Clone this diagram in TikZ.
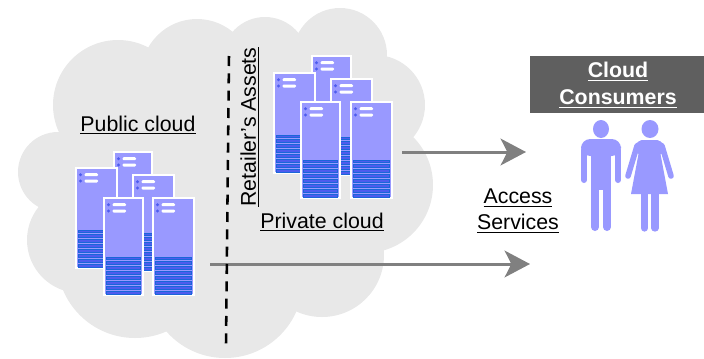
\documentclass[tikz,border=0pt]{standalone}
\usepackage{fontspec}
\setmainfont{Liberation Sans}
\usetikzlibrary{arrows.meta}
\definecolor{cloudgrey}{HTML}{E8E8E8}
\definecolor{headgrey}{HTML}{5F5F5F}
\definecolor{linkgrey}{HTML}{808080}
\definecolor{unitblue}{HTML}{9999FF}
\definecolor{rowblue}{HTML}{1A66D9}
\definecolor{rowfill}{HTML}{4D5CEE}
\newcommand{\lblline}[1]{\sbox0{#1}\rlap{\usebox0}\rule[-2.6pt]{\wd0}{.9pt}}
\tikzset{
  label/.style = {font=\fontsize{16}{19.5}\selectfont, align=center, inner sep=0pt},
  headlabel/.style = {label, font=\fontsize{16}{20}\selectfont\bfseries, text=white},
  link/.style = {draw=linkgrey, line width=2.25pt, -{Stealth[length=19pt,width=20pt,inset=5pt]}},
  unitbox/.style = {fill=unitblue, draw=white, line width=1.5pt},
  unitrow/.style = {fill=rowfill, draw=rowblue, line width=.7pt},
  limb/.style = {draw=unitblue, line cap=round, line join=round},
}
% one server, x y w h of the top left corner
\newcommand{\serverunit}[4]{
  \begin{scope}[shift={(#1,#2)}]
    \draw[unitbox] (0,0) rectangle (#3,#4);
    \foreach \dy in {6.7,13}{
      \fill[rowfill] (4.5,\dy) circle (1.6);
      \fill[white,rounded corners=.8pt] (8.5,\dy-1.5) rectangle (22,\dy+1.5);
    }
    \foreach \r in {0,...,7}{
      \draw[unitrow] (2.5,#4-38+\r*4.9) rectangle (#3-2.5,#4-38+\r*4.9+2.8);
    }
  \end{scope}
}
\begin{document}
\begin{tikzpicture}[x=.75pt,y=-.75pt]
    \useasboundingbox (0,0) rectangle (704,358);

    % cloud
    \foreach \cx/\cy/\cr in {118/105/65, 58/172/40, 80/240/53, 135/260/78, 197/75/56,
        265/60/43, 340/55/47, 375/105/50, 365/185/68, 322/255/62, 225/280/78, 230/180/125}{
      \fill[cloudgrey] (\cx,\cy) circle (\cr);
    }

    % public cloud servers
    \serverunit{114}{152}{38}{100}
    \serverunit{76}{168}{41}{100}
    \serverunit{133}{175}{41}{96}
    \serverunit{104}{198}{39}{97}
    \serverunit{153}{198}{41}{97}

    % private cloud servers
    \serverunit{312}{56}{39}{100}
    \serverunit{274}{73}{41}{100}
    \serverunit{331}{79}{41}{96}
    \serverunit{301}{102}{39}{96}
    \serverunit{351}{102}{41}{96}

    \node[label] (publiclbl) at (138,125) {\lblline{Public cloud}};
    \node[label] (privatelbl) at (322,222) {\lblline{Private cloud}};
    \node[label,rotate=90] (assetslbl) at (250,127) {\lblline{Retailer’s Assets}};
    \node[label] (accesslbl) at (518,211) {\lblline{Access}\\\lblline{Services}};

    \coordinate (pubout) at (210,264);
    \coordinate (pubin) at (530,264);
    \coordinate (privout) at (402,152);
    \coordinate (privin) at (526,152);
    \draw[link] (privout) -- (privin);
    \draw[link] (pubout) -- (pubin);

    \coordinate (divtop) at (229,56);
    \coordinate (divbot) at (226,344);
    \draw[line width=1.9pt, dash pattern=on 7.5pt off 5.5pt] (divtop) -- (divbot);

    \node[fill=headgrey, minimum width=174*.75pt, minimum height=57*.75pt, inner sep=0pt] (headbox) at (617,84.5) {};
    \node[headlabel] (headlbl) at (618,85) {\lblline{Cloud}\\\lblline{Consumers}};

    % man
    \fill[unitblue] (601,129) ellipse (8 and 9);
    \fill[unitblue,rounded corners=7pt] (581,156) -- (581,139) -- (621,139) -- (621,156) -- cycle;
    \fill[unitblue] (591,150) rectangle (611,190);
    \draw[limb,line width=4.5pt] (584,150) -- (584,180);
    \draw[limb,line width=4.5pt] (618,150) -- (618,180);
    \draw[limb,line width=6pt] (595,185) -- (595,227);
    \draw[limb,line width=6pt] (607,185) -- (607,227);

    % woman
    \fill[unitblue] (650,129) ellipse (8.5 and 9);
    \fill[unitblue] (640,146) -- (659,146) -- (668,194) -- (631,194) -- cycle;
    \fill[unitblue,rounded corners=4pt] (637,140) -- (662,140) -- (664,155) -- (636,155) -- cycle;
    \draw[limb,line width=4.2pt] (628,176) -- (637,146) -- (642,143) -- (657,143) -- (662,146) -- (671,176);
    \draw[limb,line width=5.5pt] (644.5,190) -- (644.5,228);
    \draw[limb,line width=5.5pt] (655,190) -- (655,228);
\end{tikzpicture}
\end{document}
